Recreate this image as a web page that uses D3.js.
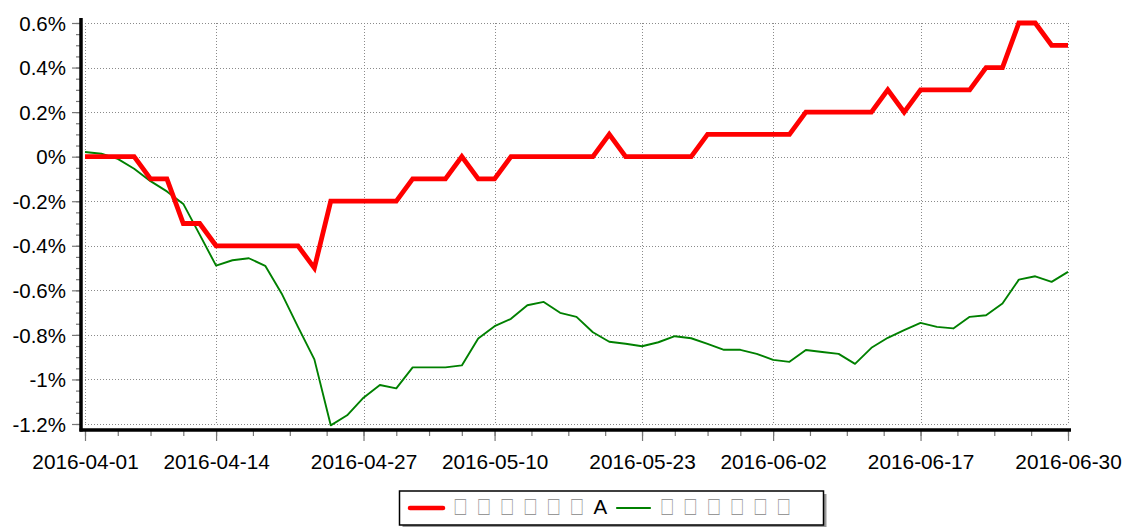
<!DOCTYPE html>
<html><head><meta charset="utf-8">
<script src="https://cdn.jsdelivr.net/npm/d3@7"></script>
<style>
body{margin:0;background:#fff;}
text{font-family:"Liberation Sans",Arial,sans-serif;}
</style></head>
<body><svg id="c" width="1126" height="527"></svg>
<script>
const dates = ["2016-04-01","2016-04-05","2016-04-06","2016-04-07","2016-04-08","2016-04-11","2016-04-12","2016-04-13","2016-04-14","2016-04-15",
"2016-04-18","2016-04-19","2016-04-20","2016-04-21","2016-04-22","2016-04-25","2016-04-26","2016-04-27","2016-04-28","2016-04-29",
"2016-05-03","2016-05-04","2016-05-05","2016-05-06","2016-05-09","2016-05-10","2016-05-11","2016-05-12","2016-05-13","2016-05-16",
"2016-05-17","2016-05-18","2016-05-19","2016-05-20","2016-05-23","2016-05-24","2016-05-25","2016-05-26","2016-05-27","2016-05-30",
"2016-05-31","2016-06-01","2016-06-02","2016-06-03","2016-06-06","2016-06-07","2016-06-08","2016-06-13","2016-06-14","2016-06-15",
"2016-06-16","2016-06-17","2016-06-20","2016-06-21","2016-06-22","2016-06-23","2016-06-24","2016-06-27","2016-06-28","2016-06-29","2016-06-30"];
const seriesA = [0,0,0,0,-0.1,-0.1,-0.3,-0.3,-0.4,-0.4,
-0.4,-0.4,-0.4,-0.4,-0.5,-0.2,-0.2,-0.2,-0.2,-0.2,
-0.1,-0.1,-0.1,0,-0.1,-0.1,0,0,0,0,
0,0,0.1,0,0,0,0,0,0.1,0.1,
0.1,0.1,0.1,0.1,0.2,0.2,0.2,0.2,0.2,0.3,
0.2,0.3,0.3,0.3,0.3,0.4,0.4,0.6,0.6,0.5,0.5];
const seriesB = [0.021,0.013,-0.010,-0.054,-0.110,-0.156,-0.212,-0.350,-0.489,-0.465,
-0.456,-0.490,-0.614,-0.764,-0.910,-1.206,-1.161,-1.082,-1.025,-1.040,
-0.946,-0.946,-0.946,-0.937,-0.816,-0.761,-0.728,-0.667,-0.652,-0.701,
-0.719,-0.788,-0.831,-0.840,-0.851,-0.833,-0.806,-0.815,-0.840,-0.867,
-0.867,-0.885,-0.912,-0.921,-0.868,-0.877,-0.885,-0.930,-0.858,-0.813,
-0.779,-0.746,-0.764,-0.771,-0.719,-0.712,-0.659,-0.552,-0.537,-0.562,-0.517];
const xTickIdx = [0,8,17,25,34,42,51,60];
const yTicks = [-1.2,-1,-0.8,-0.6,-0.4,-0.2,0,0.2,0.4,0.6];
const seriesNames = ["\u25A1\u25A1\u25A1\u25A1\u25A1\u25A1A","\u25A1\u25A1\u25A1\u25A1\u25A1\u25A1"];
const colors = ["#ff0000","#008000"];

const svg = d3.select("#c");
const x = d3.scaleLinear().domain([0,dates.length-1]).range([85,1068]);
const y = d3.scaleLinear().domain([-1.2,0.6]).range([424,23]);

// grid
const grid = svg.append("g").attr("stroke","#8a8a8a").attr("stroke-width",1).attr("stroke-dasharray","1,2");
grid.selectAll("line.h").data(yTicks).join("line").attr("class","h")
  .attr("x1",x(0)).attr("x2",x(60)).attr("y1",d=>Math.round(y(d))+0.5).attr("y2",d=>Math.round(y(d))+0.5);
grid.selectAll("line.v").data(xTickIdx).join("line").attr("class","v")
  .attr("x1",d=>Math.round(x(d))+0.5).attr("x2",d=>Math.round(x(d))+0.5).attr("y1",y(0.6)).attr("y2",y(-1.2));

// minor ticks
const yMinor = d3.range(-1.2,0.6001,0.05).map(v=>+v.toFixed(2));
const xMinor = [];
for(let k=0;k<xTickIdx.length-1;k++){const a=xTickIdx[k],b=xTickIdx[k+1];for(let j=0;j<4;j++)xMinor.push(a+(b-a)*j/4);}
xMinor.push(60);

// y axis
const yAxisMinor = d3.axisLeft(y).tickValues(yMinor).tickSize(5).tickFormat("");
const gyMinor = svg.append("g").attr("transform","translate(81,0)").call(yAxisMinor);
const yAxis = d3.axisLeft(y).tickValues(yTicks).tickSize(9).tickPadding(6)
  .tickFormat(d=>(+d.toFixed(1))+"%");
const gy = svg.append("g").attr("transform","translate(81,0)").call(yAxis);
[gy,gyMinor].forEach(g=>{g.selectAll(".domain").remove();g.selectAll(".tick line").attr("stroke","#777").attr("stroke-width",1.2);});
gy.selectAll("text").attr("font-size",20.5).attr("fill","#000").attr("font-family","Liberation Sans, Arial, sans-serif").attr("dy","0.35em");

// x axis
const xAxisMinor = d3.axisBottom(x).tickValues(xMinor).tickSize(6).tickFormat("");
const gxMinor = svg.append("g").attr("transform","translate(0,430)").call(xAxisMinor);
const xAxis = d3.axisBottom(x).tickValues(xTickIdx).tickSize(11).tickPadding(13).tickFormat(i=>dates[i]);
const gx = svg.append("g").attr("transform","translate(0,430)").call(xAxis);
[gx,gxMinor].forEach(g=>{g.selectAll(".domain").remove();g.selectAll(".tick line").attr("stroke","#777").attr("stroke-width",1.2);});
gx.selectAll("text").attr("font-size",20.8).attr("fill","#000").attr("font-family","Liberation Sans, Arial, sans-serif");

// axis lines
svg.append("line").attr("x1",81).attr("x2",81).attr("y1",18).attr("y2",431.5).attr("stroke","#000").attr("stroke-width",3.5);
svg.append("line").attr("x1",79.5).attr("x2",1071).attr("y1",430).attr("y2",430).attr("stroke","#000").attr("stroke-width",3.5);

// lines
const line = d3.line().x((d,i)=>x(i)).y(d=>y(d));
svg.append("path").datum(seriesB).attr("d",line).attr("fill","none").attr("stroke",colors[1]).attr("stroke-width",1.9).attr("stroke-linejoin","round");
svg.append("path").datum(seriesA).attr("d",line).attr("fill","none").attr("stroke",colors[0]).attr("stroke-width",4.8).attr("stroke-linejoin","miter");

// legend
const lg = svg.append("g");
lg.append("rect").attr("x",402.5).attr("y",494).attr("width",424).attr("height",34).attr("fill","#999");
lg.append("rect").attr("x",399.5).attr("y",491).attr("width",424).attr("height",34).attr("fill","#fff").attr("stroke","#000").attr("stroke-width",1.5);
const items = [{x0:410,x1:443,cx:460.5,w:4.5},{x0:617,x1:650,cx:667.2,w:2.2}];
items.forEach((it,k)=>{
  lg.append("line").attr("x1",it.x0).attr("x2",it.x1).attr("y1",508).attr("y2",508).attr("stroke",colors[k]).attr("stroke-width",it.w).attr("stroke-linecap","round");
  const chars = Array.from(seriesNames[k]);
  chars.forEach((ch,j)=>{
    const cx = it.cx + j*23.3;
    if(ch==="\u25A1"){
      lg.append("text").attr("transform",`translate(${cx},515) scale(0.85,1.2)`)
        .attr("text-anchor","middle").attr("font-family","DejaVu Sans").attr("font-size",22)
        .attr("fill","#999").text(ch);
    } else {
      lg.append("text").attr("x",cx).attr("y",514).attr("text-anchor","middle")
        .attr("font-size",20.5).attr("fill","#000").text(ch);
    }
  });
});
</script></body></html>
